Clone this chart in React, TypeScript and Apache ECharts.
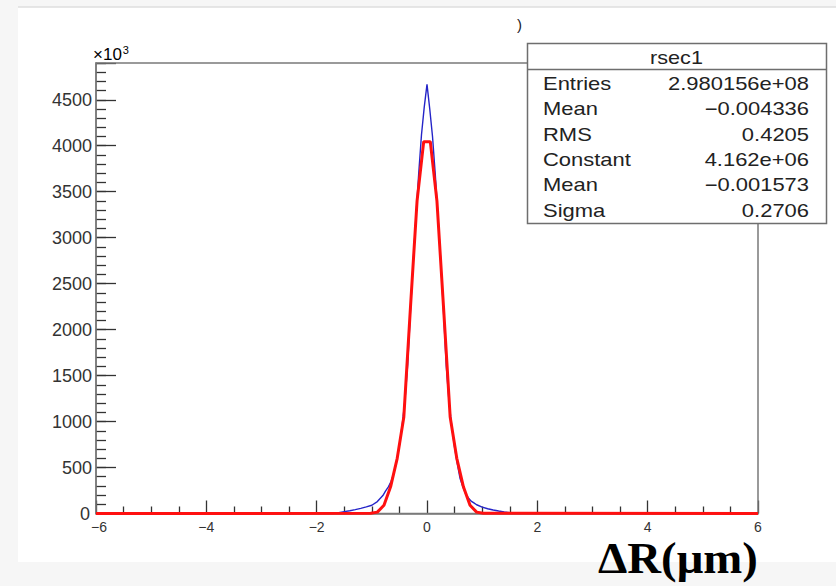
import React, { useEffect, useRef } from "react";
import * as echarts from "echarts";

// ---- data ----
const blueX = [
  -1.7, -1.6, -1.5, -1.4, -1.3, -1.2, -1.1, -1.0, -0.9, -0.8, -0.75, -0.7, -0.65, -0.6, -0.55,
  -0.5, -0.45, -0.4, -0.35, -0.3, -0.25, -0.2, -0.15, -0.1, -0.05, 0, 0.05, 0.1, 0.15, 0.2,
  0.25, 0.3, 0.35, 0.4, 0.45, 0.5, 0.55, 0.6, 0.65, 0.7, 0.75, 0.8, 0.85, 0.9, 1.0, 1.1, 1.2,
  1.3, 1.4, 1.5, 1.6, 1.7,
];
const blueY = [
  2, 10, 20, 30, 42, 56, 72, 90, 130, 195, 245, 290, 350, 440, 570,
  740, 960, 1230, 1620, 2200, 2740, 3230, 3700, 4120, 4420, 4668, 4400, 4100, 3690, 3220,
  2730, 2190, 1600, 1210, 940, 720, 540, 380, 290, 215, 170, 135, 115, 95, 70, 52, 38,
  27, 17, 10, 4, 0,
];
const redX = [
  -6, -1.02, -0.9, -0.78, -0.66, -0.54, -0.42, -0.3, -0.18, -0.06, 0.06, 0.18, 0.3, 0.42, 0.54,
  0.66, 0.78, 0.9, 1.02, 6,
];
const redY = [
  0, 2, 15, 90, 290, 600, 1050, 2240, 3400, 4044, 4044, 3400, 2240, 1050, 600,
  290, 90, 15, 2, 0,
];
const xTicks = [-6, -4, -2, 0, 2, 4, 6];
const yTicks = [0, 500, 1000, 1500, 2000, 2500, 3000, 3500, 4000, 4500];
const statsTitle = "rsec1";
const statsLabels = ["Entries", "Mean", "RMS", "Constant", "Mean", "Sigma"];
const statsValues = ["2.980156e+08", "\u22120.004336", "0.4205", "4.162e+06", "\u22120.001573", "0.2706"];
const xTitle = "\u0394R(\u03bcm)";

const SANS = '"Liberation Sans", Arial, Helvetica, sans-serif';

export default function App() {
  const ref = useRef<HTMLDivElement>(null);
  useEffect(() => {
    if (!ref.current) return;
    const chart = echarts.init(ref.current, null, { renderer: "svg" });

    const statsEls: any[] = [];
    statsEls.push({
      type: "rect",
      z: 50,
      shape: { x: 527.5, y: 43.5, width: 299, height: 180 },
      style: { fill: "#ffffff", stroke: "#6e6e6e", lineWidth: 1.5 },
    });
    statsEls.push({
      type: "line",
      z: 51,
      shape: { x1: 527.5, y1: 69.5, x2: 826.5, y2: 69.5 },
      style: { stroke: "#6e6e6e", lineWidth: 1.5 },
    });
    statsEls.push({
      type: "text",
      z: 52,
      x: 676.5,
      y: 58,
      scaleX: 1.2,
      style: {
        text: statsTitle,
        font: `18px ${SANS}`,
        fill: "#222",
        align: "center",
        textAlign: "center",
        verticalAlign: "middle",
        textVerticalAlign: "middle",
      },
    });
    statsLabels.forEach((lab, i) => {
      const y = 83.5 + i * 25.4;
      statsEls.push({
        type: "text",
        z: 52,
        x: 543,
        y,
        scaleX: 1.22,
        style: {
          text: lab,
          font: `18px ${SANS}`,
          fill: "#222",
          align: "left",
          textAlign: "left",
          verticalAlign: "middle",
          textVerticalAlign: "middle",
        },
      });
      statsEls.push({
        type: "text",
        z: 52,
        x: 809,
        y,
        scaleX: 1.22,
        style: {
          text: statsValues[i],
          font: `18px ${SANS}`,
          fill: "#222",
          align: "right",
          textAlign: "right",
          verticalAlign: "middle",
          textVerticalAlign: "middle",
        },
      });
    });

    chart.setOption({
      animation: false,
      backgroundColor: "#ffffff",
      grid: {
        left: 96,
        right: 78,
        top: 63,
        bottom: 72.5,
        show: true,
        borderColor: "#7a7a7a",
        borderWidth: 1.5,
        backgroundColor: "transparent",
        z: 1,
      },
      xAxis: {
        type: "value",
        min: -6,
        max: 6,
        interval: 2,
        axisLine: { show: true, onZero: false, lineStyle: { color: "#7a7a7a", width: 1.5 } },
        axisTick: { show: true, inside: true, length: 13, lineStyle: { color: "#333", width: 1.3 } },
        minorTick: { show: true, splitNumber: 4, length: 7, lineStyle: { color: "#333", width: 1.3 } },
        splitLine: { show: false },
        axisLabel: {
          margin: 6,
          fontSize: 14,
          fontFamily: SANS,
          color: "#333",
          formatter: (v: number) => {
            if (!xTicks.includes(v)) return "";
            const s = String(v).replace("-", "\u2212");
            return v === xTicks[0] ? `{m|${s}}` : s;
          },
          rich: {
            m: { fontSize: 14, fontFamily: SANS, color: "#333", padding: [0, 0, 0, 6] },
          },
        },
      },
      yAxis: [
        {
          type: "value",
          min: 0,
          max: 4900,
          interval: 500,
          position: "left",
          axisLine: { show: true, onZero: false, lineStyle: { color: "#7a7a7a", width: 1.5 } },
          axisTick: { show: true, inside: true, length: 20, lineStyle: { color: "#333", width: 1.3 } },
          splitLine: { show: false },
          axisLabel: {
            margin: 4,
            fontSize: 18,
            fontFamily: SANS,
            color: "#333",
            formatter: (v: number) => {
              if (!yTicks.includes(v)) return "";
              return v === 0 ? `{z|${v}}` : String(v);
            },
            rich: {
              z: { fontSize: 18, fontFamily: SANS, color: "#333", padding: [0, 2, 0, 0] },
            },
          },
        },
        {
          type: "value",
          min: 0,
          max: 4900,
          interval: 100,
          position: "left",
          axisLine: { show: false, onZero: false },
          axisTick: { show: true, inside: true, length: 10, lineStyle: { color: "#333", width: 1.3 } },
          splitLine: { show: false },
          axisLabel: { show: false },
        },
      ],
      series: [
        {
          type: "line",
          name: "hist",
          xAxisIndex: 0,
          yAxisIndex: 0,
          data: blueX.map((x, i) => [x, blueY[i]]),
          showSymbol: false,
          symbol: "none",
          lineStyle: { color: "#2424c8", width: 1.4 },
          z: 3,
        },
        {
          type: "line",
          name: "fit",
          xAxisIndex: 0,
          yAxisIndex: 0,
          data: redX.map((x, i) => [x, redY[i]]),
          showSymbol: false,
          symbol: "none",
          lineStyle: { color: "#ff1010", width: 3 },
          z: 4,
        },
      ],
      graphic: [
        { type: "rect", z: -100, shape: { x: 0, y: 0, width: 18, height: 586 }, style: { fill: "#f6f6f6" } },
        { type: "rect", z: -100, shape: { x: 0, y: 0, width: 836, height: 7 }, style: { fill: "#f6f6f6" } },
        { type: "line", z: -99, shape: { x1: 18, y1: 7, x2: 836, y2: 7 }, style: { stroke: "#dedede", lineWidth: 1.5 } },
        { type: "rect", z: -100, shape: { x: 0, y: 562, width: 836, height: 24 }, style: { fill: "#f6f6f6" } },
        {
          type: "text",
          z: 60,
          x: 93,
          y: 44,
          style: {
            text: "{a|\u00d710}{b|3}",
            rich: {
              a: { fontSize: 17, fontFamily: SANS, color: "#333", verticalAlign: "bottom" },
              b: { fontSize: 11, fontFamily: SANS, color: "#333", padding: [0, 0, 8, 1] },
            },
            align: "left",
            textAlign: "left",
          },
        },
        {
          type: "text",
          z: 60,
          x: 517,
          y: 24,
          style: {
            text: ")",
            font: `15px ${SANS}`,
            fill: "#222",
            align: "left",
            textAlign: "left",
            verticalAlign: "middle",
            textVerticalAlign: "middle",
          },
        },
        {
          type: "text",
          z: 60,
          x: 598,
          y: 558,
          scaleX: 1.04,
          style: {
            text: xTitle,
            font: 'bold 45px "Liberation Serif", "Times New Roman", serif',
            fill: "#000",
            align: "left",
            textAlign: "left",
            verticalAlign: "middle",
            textVerticalAlign: "middle",
          },
        },
        ...statsEls,
      ],
    });
    return () => chart.dispose();
  }, []);
  return (
    <div
      ref={ref}
      style={{ position: "absolute", left: 0, top: 0, width: 836, height: 586 }}
    />
  );
}
